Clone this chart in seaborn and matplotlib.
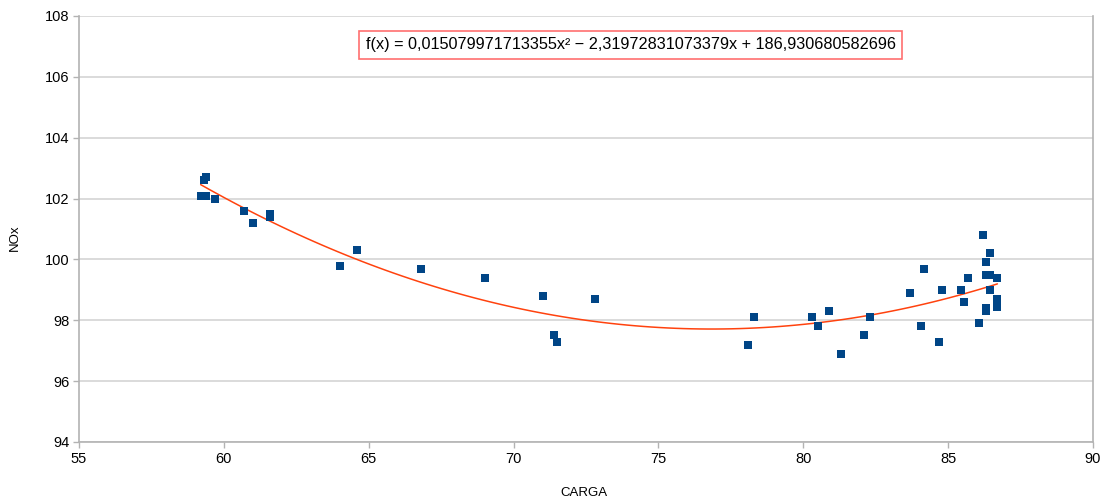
import matplotlib
matplotlib.use("Agg")
import matplotlib.pyplot as plt
import seaborn as sns
import pandas as pd

carga = [59.2, 59.4, 59.3, 59.4, 59.7, 60.7, 61.0, 61.6, 61.6,
         64.0, 64.6, 66.8, 69.0, 71.0, 71.4, 71.5, 72.8,
         78.1, 78.3, 80.3, 80.5, 80.9, 81.3, 82.1, 82.3,
         86.2, 86.45, 86.3, 84.15, 85.7, 86.3, 86.45, 86.7,
         83.7, 84.8, 85.45, 86.45, 85.55, 86.7, 86.7, 86.3, 86.3,
         86.05, 84.05, 84.7]
nox = [102.1, 102.1, 102.6, 102.7, 102.0, 101.6, 101.2, 101.5, 101.4,
       99.8, 100.3, 99.7, 99.4, 98.8, 97.5, 97.3, 98.7,
       97.2, 98.1, 98.1, 97.8, 98.3, 96.9, 97.5, 98.1,
       100.8, 100.2, 99.9, 99.7, 99.4, 99.5, 99.5, 99.4,
       98.9, 99.0, 99.0, 99.0, 98.6, 98.7, 98.45, 98.4, 98.3,
       97.9, 97.8, 97.3]
equation = "f(x) = 0,015079971713355x\u00b2 \u2212 2,31972831073379x + 186,930680582696"
x_ticks = [55, 60, 65, 70, 75, 80, 85, 90]
y_ticks = [94, 96, 98, 100, 102, 104, 106, 108]

df = pd.DataFrame({"CARGA": carga, "NOx": nox})

sns.set_theme(style="white")
plt.rcParams['font.family'] = ['Liberation Sans', 'DejaVu Sans']

fig = plt.figure(figsize=(11.08, 5.03), dpi=100)
ax = fig.add_axes([79/1108, 1 - 442/503, (1093-79)/1108, (442-16)/503])

sns.regplot(data=df, x="CARGA", y="NOx", order=2, ci=None, scatter=False,
            truncate=True, ax=ax, line_kws=dict(color="#ff420e", lw=1.1))
sns.scatterplot(data=df, x="CARGA", y="NOx", marker="s", s=40, color="#004586",
                edgecolor="#004586", linewidth=0, ax=ax, zorder=3)

ax.set_xlim(55, 90)
ax.set_ylim(94, 108)
ax.set_xticks(x_ticks)
ax.set_yticks(y_ticks)
ax.yaxis.grid(True, color="#d4d4d4", lw=1.2)
ax.xaxis.grid(False)
for s in ax.spines.values():
    s.set_color("#b3b3b3")
    s.set_linewidth(1.2)
ax.spines["top"].set_visible(False)
ax.tick_params(axis="both", which="both", direction="out", length=4.5, width=1,
               color="#b3b3b3", labelsize=10.5, labelcolor="#000000", pad=2.5,
               bottom=True, left=True)
ax.set_xlabel("CARGA", fontsize=9.5, color="#000000")
ax.set_ylabel("NOx", fontsize=9.5, color="#000000")
ax.xaxis.set_label_coords((584 - 79) / 1014, (442 - 487) / 426)
ax.yaxis.set_label_coords((21 - 79) / 1014, (442 - 238) / 426)

ax.text(0.544, 0.932, equation, transform=ax.transAxes, ha="center", va="center",
        fontsize=11.7, color="#000000",
        bbox=dict(boxstyle="square,pad=0.4", fc="white", ec="#ff6f6f", lw=1.2))

fig.savefig("out.png", dpi=100)
